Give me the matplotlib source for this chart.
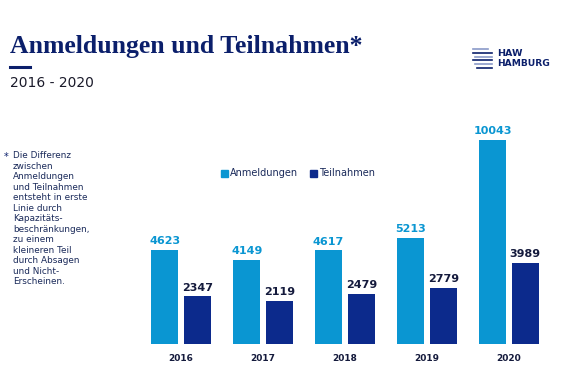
import matplotlib.pyplot as plt
from matplotlib.lines import Line2D
from matplotlib.patches import Rectangle
import numpy as np

jahre = ["2016", "2017", "2018", "2019", "2020"]
anmeldungen = [4623, 4149, 4617, 5213, 10043]
teilnahmen = [2347, 2119, 2479, 2779, 3989]

hell = "#0a96d2"
dunkel = "#0c2a8c"
navy = "#0b1f6b"

fig = plt.figure(figsize=(5.7, 3.8), dpi=100)
W, H = 570, 380

# chart area (pixel based placement)
ax = fig.add_axes([132 / W, (380 - 344) / H, 426 / W, 214 / H])
x = np.arange(len(jahre))
off = 0.2
bw = 0.33
ax.bar(x - off, anmeldungen, bw, color=hell)
ax.bar(x + off, teilnahmen, bw, color=dunkel)
for i in range(len(jahre)):
    ax.text(x[i] - off, anmeldungen[i] + 180, str(anmeldungen[i]), ha="center", va="bottom",
            fontsize=8, fontweight="bold", color=hell)
    ax.text(x[i] + off, teilnahmen[i] + 180, str(teilnahmen[i]), ha="center", va="bottom",
            fontsize=8, fontweight="bold", color="#141a3c")
ax.set_xlim(-0.6, 4.6)
ax.set_ylim(0, 10535)
ax.set_xticks(x)
ax.set_xticklabels(jahre, fontsize=6.5, fontweight="bold", color="#141a3c")
ax.tick_params(axis="x", length=0, pad=7)
ax.set_yticks([])
for s in ax.spines.values():
    s.set_visible(False)

# legend
fig.patches.append(Rectangle((221 / W, 1 - 177 / H), 7 / W, 7 / H, transform=fig.transFigure,
                             color=hell))
fig.text(230 / W, 1 - 173 / H, "Anmeldungen", fontsize=7, color="#1a2a5a", va="center")
fig.patches.append(Rectangle((310 / W, 1 - 177 / H), 7 / W, 7 / H, transform=fig.transFigure,
                             color=dunkel))
fig.text(319 / W, 1 - 173 / H, "Teilnahmen", fontsize=7, color="#1a2a5a", va="center")

# title
fig.text(10 / W, 1 - 46 / H, "Anmeldungen und Teilnahmen*", fontsize=18.5, fontweight="bold",
         family="Liberation Serif", color=navy, va="center")
fig.lines.append(Line2D([10 / W, 30 / W], [1 - 67 / H, 1 - 67 / H], transform=fig.transFigure,
                        color=navy, lw=2.2))
fig.text(10 / W, 1 - 83 / H, "2016 - 2020", fontsize=10, color="#1a1a2a", va="center")

# footnote
fig.text(4 / W, 1 - 157 / H, "*", fontsize=7, color=navy, va="center")
fussnote = ("Die Differenz\nzwischen\nAnmeldungen\nund Teilnahmen\nentsteht in erste\n"
            "Linie durch\nKapazitäts-\nbeschränkungen,\nzu einem\nkleineren Teil\n"
            "durch Absagen\nund Nicht-\nErscheinen.")
fig.text(13 / W, 1 - 151 / H, fussnote, fontsize=6.4, color="#1a2a5a", va="top",
         linespacing=1.22)

# logo
for k, (x0, x1) in enumerate([(473, 488), (473, 492), (475, 492), (473, 492), (475, 492), (477, 492)]):
    yy = 1 - (49 + k * 3.8) / H
    fig.lines.append(Line2D([x0 / W, x1 / W], [yy, yy], transform=fig.transFigure,
                            color=navy if k % 2 else "#8a9ac8", lw=1.2))
fig.text(497 / W, 1 - 53 / H, "HAW", fontsize=6.8, fontweight="bold", color=navy, va="center")
fig.text(497 / W, 1 - 63 / H, "HAMBURG", fontsize=6.6, fontweight="bold", color=navy, va="center")

fig.savefig("out.png", dpi=100)
